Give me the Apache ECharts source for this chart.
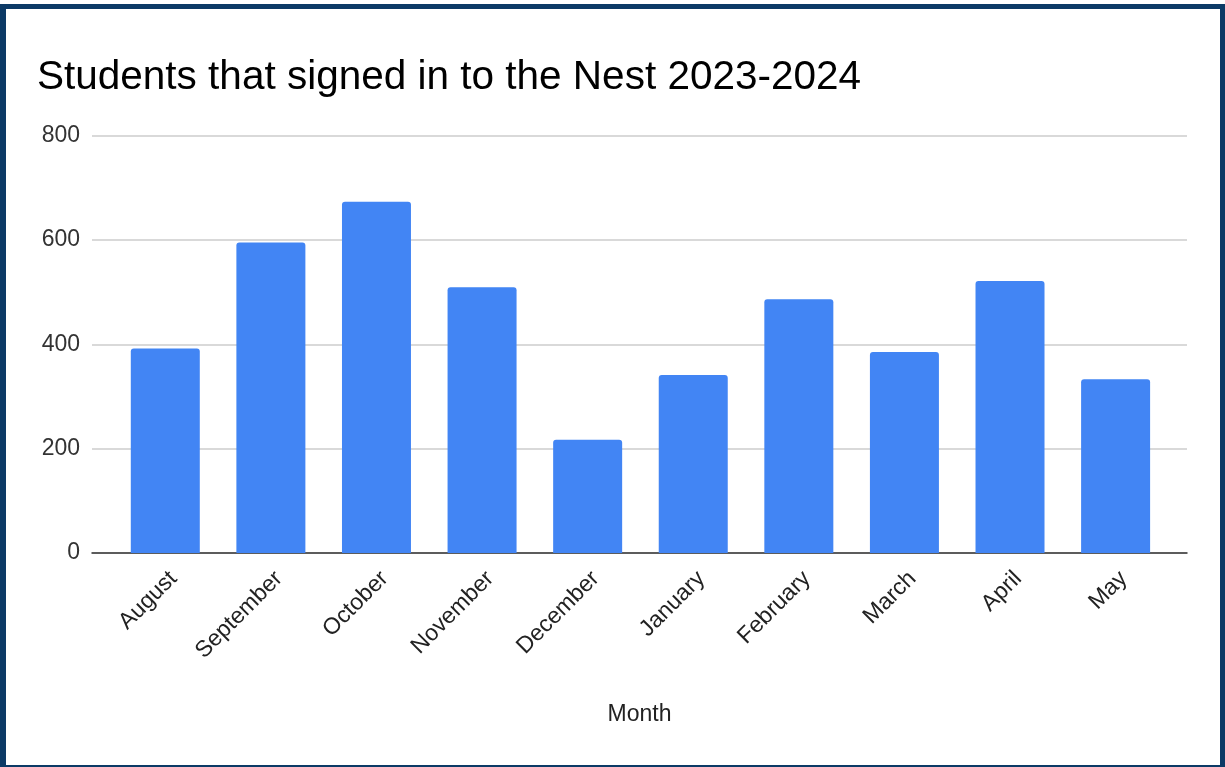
<!DOCTYPE html>
<html>
<head>
<meta charset="utf-8">
<title>Students that signed in to the Nest 2023-2024</title>
<script src="https://cdn.jsdelivr.net/npm/echarts@6/dist/echarts.min.js"></script>
<style>
  html, body { margin: 0; padding: 0; background: #ffffff; }
  #wrap { position: relative; width: 1225px; height: 767px; overflow: hidden; }
  #chart { position: absolute; left: 0; top: 0; width: 1225px; height: 767px; }
  #frame {
    position: absolute; left: 0; top: 4px; width: 1225px; height: 763px;
    box-sizing: border-box; pointer-events: none;
    border-style: solid; border-color: #0c3a66;
    border-width: 5px 5px 2px 6px;
  }
</style>
</head>
<body>
<div id="wrap">
  <div id="chart"></div>
  <div id="frame"></div>
</div>
<script>
// Monthly sign-ins at the Nest, 2023-2024 school year
const months = ['August', 'September', 'October', 'November', 'December',
                'January', 'February', 'March', 'April', 'May'];
const signIns = [392, 595, 673, 509, 217, 341, 486, 385, 521, 333];
const yTicks = [0, 200, 400, 600, 800];

const FONT = '"Liberation Sans", Arial, sans-serif';
const yMin = yTicks[0];
const yMax = yTicks[yTicks.length - 1];
const yStep = yTicks[1] - yTicks[0];

const chart = echarts.init(document.getElementById('chart'), null, { renderer: 'canvas' });

chart.setOption({
  animation: false,
  backgroundColor: '#ffffff',
  title: {
    text: 'Students that signed in to the Nest 2023-2024',
    left: 32,
    top: 52,
    textStyle: { fontFamily: FONT, fontSize: 40.5, fontWeight: 'normal', color: '#000000' }
  },
  grid: [
    // bars
    { left: 112.5, right: 56.6, top: 135.5, height: 417.5 },
    // gridlines, axis line and tick labels
    { left: 92, right: 38, top: 135.5, height: 417.5 }
  ],
  xAxis: [
    {
      type: 'category',
      gridIndex: 0,
      data: months,
      axisLine: { show: false },
      axisTick: { show: false },
      axisLabel: {
        rotate: 45,
        margin: 14,
        interval: 0,
        verticalAlign: 'top',
        fontFamily: FONT,
        fontSize: 23,
        color: '#222222'
      }
    },
    {
      type: 'value',
      gridIndex: 1,
      min: 0,
      max: 1,
      axisLine: { show: true, onZero: false, lineStyle: { color: '#333333', width: 1.5 } },
      axisTick: { show: false },
      axisLabel: { show: false },
      splitLine: { show: false },
      name: 'Month',
      nameLocation: 'middle',
      nameGap: 150,
      nameTextStyle: { fontFamily: FONT, fontSize: 23, color: '#222222' }
    }
  ],
  yAxis: [
    {
      type: 'value',
      gridIndex: 0,
      min: yMin,
      max: yMax,
      interval: yStep,
      axisLine: { show: false },
      axisTick: { show: false },
      axisLabel: { show: false },
      splitLine: { show: false }
    },
    {
      type: 'value',
      gridIndex: 1,
      min: yMin,
      max: yMax,
      interval: yStep,
      axisLine: { show: false },
      axisTick: { show: false },
      axisLabel: {
        margin: 12,
        fontFamily: FONT,
        fontSize: 23,
        color: '#333333'
      },
      splitLine: { show: true, lineStyle: { color: '#cccccc', width: 1.5 } }
    }
  ],
  series: [
    {
      type: 'bar',
      xAxisIndex: 0,
      yAxisIndex: 0,
      data: signIns,
      barWidth: 69,
      z: 3,
      itemStyle: { color: '#4285f4', borderRadius: [3, 3, 0, 0] }
    }
  ]
});
</script>
</body>
</html>
